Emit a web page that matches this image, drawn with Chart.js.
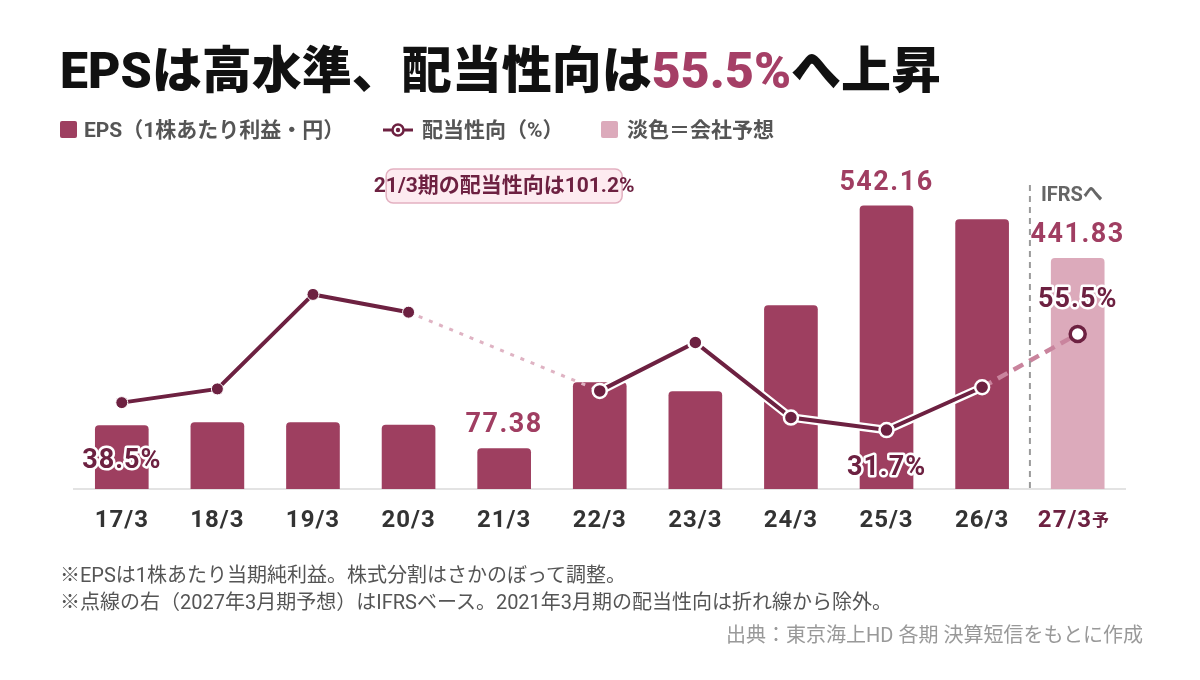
<!DOCTYPE html>
<html lang="ja">
<head>
<meta charset="utf-8">
<script src="https://cdn.jsdelivr.net/npm/chart.js@4.4.1/dist/chart.umd.min.js"></script>
<style>
  body { margin: 0; background: #fff; font-family: Roboto, "Noto Sans CJK JP", sans-serif; }
  #page { position: relative; width: 1200px; height: 680px; overflow: hidden; }
  #myChart { position: absolute; left: 0; top: 0; }
  .title { position: absolute; left: 60px; top: 46px; font-size: 50px; line-height: 50px; font-weight: 900; color: #111; white-space: nowrap; }
  .title span { color: #a53f66; }
  .leg { position: absolute; top: 119px; height: 22px; line-height: 22px; font-size: 21px; font-weight: 700; color: #555; white-space: nowrap; }
  .sw { position: absolute; top: 121px; width: 17px; height: 17px; border-radius: 2px; }
  .note { position: absolute; left: 60px; top: 562px; font-size: 20px; line-height: 27px; color: #555; white-space: nowrap; }
  .src { position: absolute; right: 57px; top: 622px; font-size: 20px; line-height: 27px; color: #999; white-space: nowrap; }
</style>
</head>
<body>
<div id="page">
  <canvas id="myChart" width="1200" height="680"></canvas>
  <div class="title">EPSは高水準、配当性向は<span>55.5%</span>へ上昇</div>
  <div class="sw" style="left:60px;background:#9e3f60"></div>
  <div class="leg" style="left:84px">EPS（1株あたり利益・円）</div>
  <svg style="position:absolute;left:383px;top:122px" width="30" height="16">
    <line x1="0" y1="8" x2="30" y2="8" stroke="#6d2141" stroke-width="3"/>
    <circle cx="15" cy="8" r="5.5" fill="#fff" stroke="#6d2141" stroke-width="2.5"/>
    <circle cx="15" cy="8" r="2.2" fill="#6d2141"/>
  </svg>
  <div class="leg" style="left:422px">配当性向（%）</div>
  <div class="sw" style="left:601px;background:#dcaabb"></div>
  <div class="leg" style="left:627px">淡色＝会社予想</div>
  <div class="note">※EPSは1株あたり当期純利益。株式分割はさかのぼって調整。<br>※点線の右（2027年3月期予想）はIFRSベース。2021年3月期の配当性向は折れ線から除外。</div>
  <div class="src">出典：東京海上HD 各期 決算短信をもとに作成</div>
</div>
<script>
const categories = ["17/3", "18/3", "19/3", "20/3", "21/3", "22/3", "23/3", "24/3", "25/3", "26/3", "27/3"];
// EPS (円), 27/3 is the company forecast
const eps = [121.3, 127.0, 127.0, 122.6, 77.38, 203.6, 186.4, 351.2, 542.16, 516.0, 441.83];
// payout ratio (%), 21/3 (101.2%) left out of the line
const payout = [38.5, 41.9, 65.3, 60.9, null, 41.4, 53.4, 34.8, 31.7, 42.3, 55.5];
const forecastIndex = 10;
const epsLabelIdx = [4, 8, 10];
const payoutLabelIdx = [0, 8, 10];
const note21 = "21/3期の配当性向は101.2%";
const ifrsText = "IFRSへ";
const forecastMark = "予";

const DARK = "#6d2141";
const BAR = "#9e3f60";
const BAR_LIGHT = "#dcaabb";
const FONT = 'Roboto, "Noto Sans CJK JP", sans-serif';

Chart.defaults.font.family = FONT;

// with spanGaps the segment over the null point starts at the null index
const isGap = (c) => payout[c.p1DataIndex - 1] == null;
const isForecast = (c) => c.p1DataIndex === forecastIndex;

const annotations = {
  id: "annotations",
  beforeDraw(chart) {
    chart.ctx.letterSpacing = "1px";
  },
  afterDatasetsDraw(chart) {
    const { ctx, chartArea } = chart;
    const x = chart.scales.x;
    const bars = chart.getDatasetMeta(0).data;
    const pts = chart.getDatasetMeta(2).data;
    ctx.save();

    // IFRS divider
    const divX = (x.getPixelForValue(9) + x.getPixelForValue(10)) / 2;
    ctx.strokeStyle = "#9a9a9a";
    ctx.lineWidth = 2;
    ctx.setLineDash([6, 5]);
    ctx.beginPath();
    ctx.moveTo(divX, chartArea.top + 25);
    ctx.lineTo(divX, chartArea.bottom);
    ctx.stroke();
    ctx.setLineDash([]);
    ctx.letterSpacing = "0px";
    ctx.font = "700 20px " + FONT;
    ctx.fillStyle = "#666";
    ctx.textAlign = "left";
    ctx.textBaseline = "middle";
    ctx.fillText(ifrsText, divX + 11, chartArea.top + 36);

    // 21/3 note box
    const nx = x.getPixelForValue(4);
    const ny = chartArea.top + 26;
    ctx.fillStyle = "#fdebf0";
    ctx.strokeStyle = "#e3b1c1";
    ctx.lineWidth = 1.5;
    ctx.beginPath();
    ctx.roundRect(nx - 118, ny - 17, 236, 34, 7);
    ctx.fill();
    ctx.stroke();
    ctx.font = "700 21px " + FONT;
    ctx.fillStyle = DARK;
    ctx.textAlign = "center";
    ctx.fillText(note21, nx, ny + 1);

    // EPS value labels
    ctx.letterSpacing = "1.5px";
    ctx.font = "700 27px " + FONT;
    ctx.fillStyle = "#a03e62";
    epsLabelIdx.forEach((i) => {
      const b = bars[i];
      ctx.fillText(eps[i].toFixed(2), b.x, b.y - 23);
    });

    // payout labels with white halo
    const offs = { 0: 59, 8: 38, 10: -34 };
    ctx.letterSpacing = "1px";
    ctx.font = "700 27px " + FONT;
    ctx.lineJoin = "round";
    ctx.lineWidth = 5;
    ctx.strokeStyle = "#fff";
    ctx.fillStyle = DARK;
    payoutLabelIdx.forEach((i) => {
      const p = pts[i];
      const t = payout[i].toFixed(1) + "%";
      ctx.strokeText(t, p.x, p.y + offs[i]);
      ctx.fillText(t, p.x, p.y + offs[i]);
    });

    // small forecast mark after 27/3 tick
    ctx.letterSpacing = "1px";
    ctx.font = "700 24px " + FONT;
    const tx = x.getPixelForValue(forecastIndex);
    const full = ctx.measureText(categories[forecastIndex] + "\u2003").width;
    const part = ctx.measureText(categories[forecastIndex]).width;
    ctx.letterSpacing = "0px";
    ctx.font = "700 17px " + FONT;
    ctx.textAlign = "left";
    ctx.textBaseline = "alphabetic";
    ctx.fillStyle = DARK;
    ctx.fillText(forecastMark, tx - full / 2 + part, chartArea.bottom + 37);
    ctx.restore();
  },
};

const ctx = document.getElementById("myChart").getContext("2d");
const myChart = new Chart(ctx, {
  type: "bar",
  data: {
    labels: categories,
    datasets: [
      {
        type: "bar",
        label: "EPS",
        data: eps,
        yAxisID: "y",
        order: 3,
        backgroundColor: eps.map((v, i) => (i === forecastIndex ? BAR_LIGHT : BAR)),
        borderRadius: 4,
        borderSkipped: "start",
        barThickness: 53,
      },
      {
        type: "line",
        label: "halo",
        data: payout,
        yAxisID: "y2",
        order: 2,
        spanGaps: true,
        borderColor: "#fff",
        borderWidth: 8.5,
        pointRadius: 0,
        segment: {
          borderColor: (c) => (isGap(c) || isForecast(c) ? "rgba(0,0,0,0)" : undefined),
        },
      },
      {
        type: "line",
        label: "配当性向",
        data: payout,
        yAxisID: "y2",
        order: 1,
        spanGaps: true,
        borderColor: DARK,
        borderWidth: 4,
        pointRadius: payout.map((v, i) => (i < 4 ? 6 : i === forecastIndex ? 7.5 : 7)),
        pointBorderWidth: payout.map((v, i) => (i < 4 ? 1 : i === forecastIndex ? 3.5 : 2.5)),
        pointBackgroundColor: payout.map((v, i) => (i === forecastIndex ? "#fff" : DARK)),
        pointBorderColor: payout.map((v, i) => (i === forecastIndex ? DARK : "#fff")),
        segment: {
          borderColor: (c) => (isForecast(c) ? "#c9849d" : isGap(c) ? "#dfb3c3" : undefined),
          borderDash: (c) => (isForecast(c) ? [11, 7] : isGap(c) ? [4, 7] : undefined),
          borderWidth: (c) => (isForecast(c) ? 4.5 : isGap(c) ? 3 : undefined),
        },
      },
    ],
  },
  options: {
    responsive: false,
    animation: false,
    events: [],
    layout: { padding: { left: 74, right: 74.5, top: 160, bottom: 141 } },
    plugins: { legend: { display: false }, tooltip: { enabled: false } },
    scales: {
      x: {
        grid: { display: false },
        border: { display: true, color: "#e3e3e3", width: 2 },
        ticks: {
          autoSkip: false,
          maxRotation: 0,
          padding: 10,
          font: { size: 24, weight: "700" },
          color: (c) => (c.index === forecastIndex ? DARK : "#333"),
          callback: (v, i) => (i === forecastIndex ? categories[i] + "\u2003" : categories[i]),
        },
        afterFit: (s) => { s.height = 50; },
      },
      y: { display: false, min: 0, max: 630 },
      y2: { display: false, min: 17.1, max: 98.6 },
    },
  },
  plugins: [annotations],
});
</script>
</body>
</html>
